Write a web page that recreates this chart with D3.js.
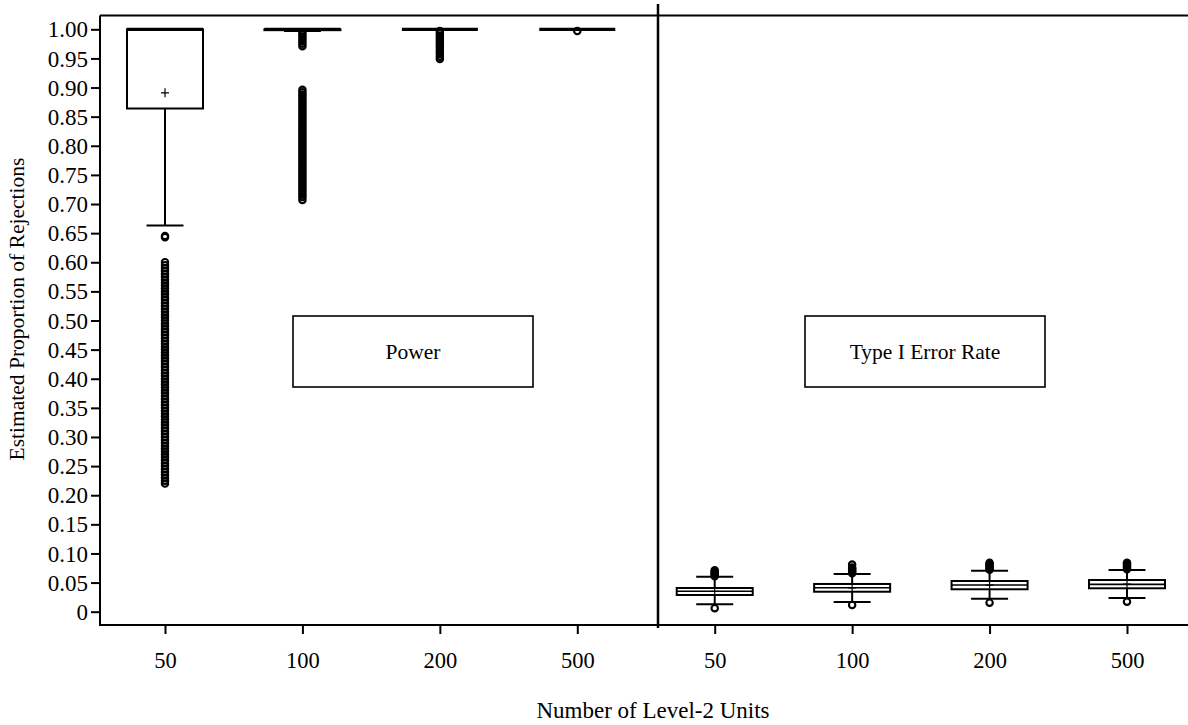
<!DOCTYPE html>
<html>
<head>
<meta charset="utf-8">
<script src="https://cdn.jsdelivr.net/npm/d3@7"></script>
</head>
<body style="margin:0">
<svg id="chart" width="1188" height="725" style="display:block;background:#fff"></svg>
<script>
// ---------- data ----------
const panels = ["Power", "Type I Error Rate"];
const sizes = ["50", "100", "200", "500"];
const yTicks = [0, 0.05, 0.10, 0.15, 0.20, 0.25, 0.30, 0.35, 0.40, 0.45, 0.50,
                0.55, 0.60, 0.65, 0.70, 0.75, 0.80, 0.85, 0.90, 0.95, 1.00];

const powerLow    = [0.663, 0.997, 1.000, 1.000];
const powerQ1     = [0.864, 0.9985, 1.000, 1.000];
const powerMedian = [1.000, 1.000, 1.000, 1.000];
const powerQ3     = [1.000, 1.000, 1.000, 1.000];
const powerHigh   = [1.000, 1.000, 1.000, 1.000];
const powerMean   = [0.891, null, null, null];

const powerOut50 = [0.643, 0.645,
  0.220,0.225,0.230,0.235,0.240,0.245,0.250,0.255,0.260,0.265,0.270,0.275,0.280,0.285,
  0.290,0.295,0.300,0.305,0.310,0.315,0.320,0.325,0.330,0.335,0.340,0.345,0.350,0.355,
  0.360,0.365,0.370,0.375,0.380,0.385,0.390,0.395,0.400,0.405,0.410,0.415,0.420,0.425,
  0.430,0.435,0.440,0.445,0.450,0.455,0.460,0.465,0.470,0.475,0.480,0.485,0.490,0.495,
  0.500,0.505,0.510,0.515,0.520,0.525,0.530,0.535,0.540,0.545,0.550,0.555,0.560,0.565,
  0.570,0.575,0.580,0.585,0.590,0.595,0.600];
const powerOut100 = [
  0.707,0.712,0.716,0.720,0.724,0.728,0.732,0.736,0.740,0.744,0.748,0.752,0.756,0.760,
  0.764,0.768,0.772,0.776,0.780,0.784,0.788,0.792,0.796,0.800,0.804,0.808,0.812,0.816,
  0.820,0.824,0.828,0.832,0.836,0.840,0.844,0.848,0.852,0.856,0.860,0.864,0.868,0.872,
  0.876,0.880,0.884,0.888,0.892,0.896,
  0.971,0.975,0.979,0.983,0.987,0.991,0.995];
const powerOut200 = [0.949,0.953,0.957,0.961,0.965,0.969,0.973,0.977,0.981,0.985,0.989,0.993,0.997];
const powerOut500 = [0.997];

const typeLow    = [0.0127, 0.0167, 0.0223, 0.0235];
const typeQ1     = [0.0287, 0.0343, 0.0385, 0.0402];
const typeMedian = [0.0350, 0.0412, 0.0458, 0.0470];
const typeQ3     = [0.0407, 0.0476, 0.0527, 0.0544];
const typeHigh   = [0.0600, 0.0647, 0.0704, 0.0716];
const typeMean   = [0.0348, 0.0410, 0.0456, 0.0472];

const typeOut50  = [0.006, 0.061, 0.063, 0.065, 0.067, 0.069, 0.071];
const typeOut100 = [0.0115, 0.066, 0.068, 0.070, 0.072, 0.074, 0.076, 0.081];
const typeOut200 = [0.0155, 0.072, 0.074, 0.076, 0.078, 0.080, 0.082, 0.084];
const typeOut500 = [0.0172, 0.073, 0.075, 0.077, 0.079, 0.081, 0.083, 0.084];

// ---------- build table for drawing ----------
const boxes = [];
sizes.forEach((s, i) => {
  boxes.push({key: "P" + s, label: s, low: powerLow[i], q1: powerQ1[i], med: powerMedian[i],
    q3: powerQ3[i], high: powerHigh[i], mean: powerMean[i],
    out: [powerOut50, powerOut100, powerOut200, powerOut500][i], thickMed: true});
});
sizes.forEach((s, i) => {
  boxes.push({key: "T" + s, label: s, low: typeLow[i], q1: typeQ1[i], med: typeMedian[i],
    q3: typeQ3[i], high: typeHigh[i], mean: typeMean[i],
    out: [typeOut50, typeOut100, typeOut200, typeOut500][i], thickMed: false});
});

// ---------- layout ----------
const FONT = '"Liberation Serif"';
const svg = d3.select("#chart");
const frameLeft = 100, frameTop = 15.5, frameBottom = 625, frameRight = 1188;
const dividerX = 658;

const x = d3.scalePoint().domain(boxes.map(d => d.key)).range([165, 1127]);
const y = d3.scaleLinear().domain([0, 1]).range([611.7, 29.3]);
const boxW = 76, capW = 37;

// y axis ticks
const yAxis = d3.axisLeft(y).tickValues(yTicks)
  .tickFormat(d => d === 0 ? "0" : d3.format(".2f")(d))
  .tickSize(9).tickPadding(3);
const gy = svg.append("g").attr("transform", `translate(${frameLeft},0)`).call(yAxis);
gy.select(".domain").remove();
gy.selectAll(".tick line").attr("stroke", "#000").attr("stroke-width", 2);
gy.selectAll(".tick text").attr("fill", "#000").attr("dy", "0.33em")
  .attr("font-family", FONT).attr("font-size", 23);

// x axis ticks
const xAxis = d3.axisBottom(x).tickFormat(k => k.slice(1)).tickSize(9).tickPadding(18);
const gx = svg.append("g").attr("transform", `translate(0,${frameBottom})`).call(xAxis);
gx.select(".domain").remove();
gx.selectAll(".tick line").attr("stroke", "#000").attr("stroke-width", 2);
gx.selectAll(".tick text").attr("fill", "#000").attr("font-family", FONT).attr("font-size", 22.5);

// frame lines
const frame = svg.append("g").attr("stroke", "#000").attr("stroke-width", 2).attr("fill", "none");
frame.append("line").attr("x1", frameLeft).attr("x2", frameLeft).attr("y1", frameTop).attr("y2", frameBottom + 1);
frame.append("line").attr("x1", frameLeft).attr("x2", frameRight).attr("y1", frameTop).attr("y2", frameTop);
frame.append("line").attr("x1", frameLeft).attr("x2", frameRight).attr("y1", frameBottom).attr("y2", frameBottom);
frame.append("line").attr("x1", dividerX).attr("x2", dividerX).attr("y1", 4).attr("y2", frameBottom + 3)
  .attr("stroke-width", 2.5);

// boxplots
const g = svg.append("g").attr("stroke", "#000").attr("fill", "none");
boxes.forEach(d => {
  const cx = x(d.key);
  const bg = g.append("g");
  if (d.low < d.q1) {
    bg.append("line").attr("x1", cx).attr("x2", cx).attr("y1", y(d.q1)).attr("y2", y(d.low)).attr("stroke-width", 2);
    bg.append("line").attr("x1", cx - capW / 2).attr("x2", cx + capW / 2).attr("y1", y(d.low)).attr("y2", y(d.low)).attr("stroke-width", 2);
  }
  if (d.high > d.q3) {
    bg.append("line").attr("x1", cx).attr("x2", cx).attr("y1", y(d.q3)).attr("y2", y(d.high)).attr("stroke-width", 2);
    bg.append("line").attr("x1", cx - capW / 2).attr("x2", cx + capW / 2).attr("y1", y(d.high)).attr("y2", y(d.high)).attr("stroke-width", 2);
  }
  bg.append("rect").attr("x", cx - boxW / 2).attr("width", boxW)
    .attr("y", y(d.q3)).attr("height", Math.max(0, y(d.q1) - y(d.q3)))
    .attr("fill", "#fff").attr("stroke-width", 2);
  bg.append("line").attr("x1", cx - boxW / 2).attr("x2", cx + boxW / 2)
    .attr("y1", y(d.med)).attr("y2", y(d.med)).attr("stroke-width", d.thickMed ? 3.2 : 1.6);
  if (d.mean != null) {
    const my = y(d.mean);
    bg.append("path").attr("d", `M${cx - 4},${my}H${cx + 4}M${cx},${my - 4.5}V${my + 4.5}`).attr("stroke-width", 1.2);
  }
  bg.selectAll("circle").data(d.out).join("circle")
    .attr("cx", cx).attr("cy", v => y(v)).attr("r", 3.2)
    .attr("fill", "none").attr("stroke-width", 2.1);
});

// panel labels
const labelBoxes = [{name: panels[0], x0: 293, x1: 533}, {name: panels[1], x0: 805, x1: 1045}];
const lb = svg.append("g");
labelBoxes.forEach(b => {
  lb.append("rect").attr("x", b.x0).attr("y", 316).attr("width", b.x1 - b.x0).attr("height", 71)
    .attr("fill", "#fff").attr("stroke", "#000").attr("stroke-width", 1.6);
  lb.append("text").attr("x", (b.x0 + b.x1) / 2).attr("y", 352).attr("dy", "0.33em")
    .attr("text-anchor", "middle").attr("font-family", FONT).attr("font-size", 21.5).text(b.name);
});

// axis titles
svg.append("text").attr("x", 653).attr("y", 718).attr("text-anchor", "middle")
  .attr("font-family", FONT).attr("font-size", 23).text("Number of Level-2 Units");
svg.append("text").attr("transform", "translate(24,309) rotate(-90)").attr("text-anchor", "middle")
  .attr("font-family", FONT).attr("font-size", 21.5).text("Estimated Proportion of Rejections");
</script>
</body>
</html>
